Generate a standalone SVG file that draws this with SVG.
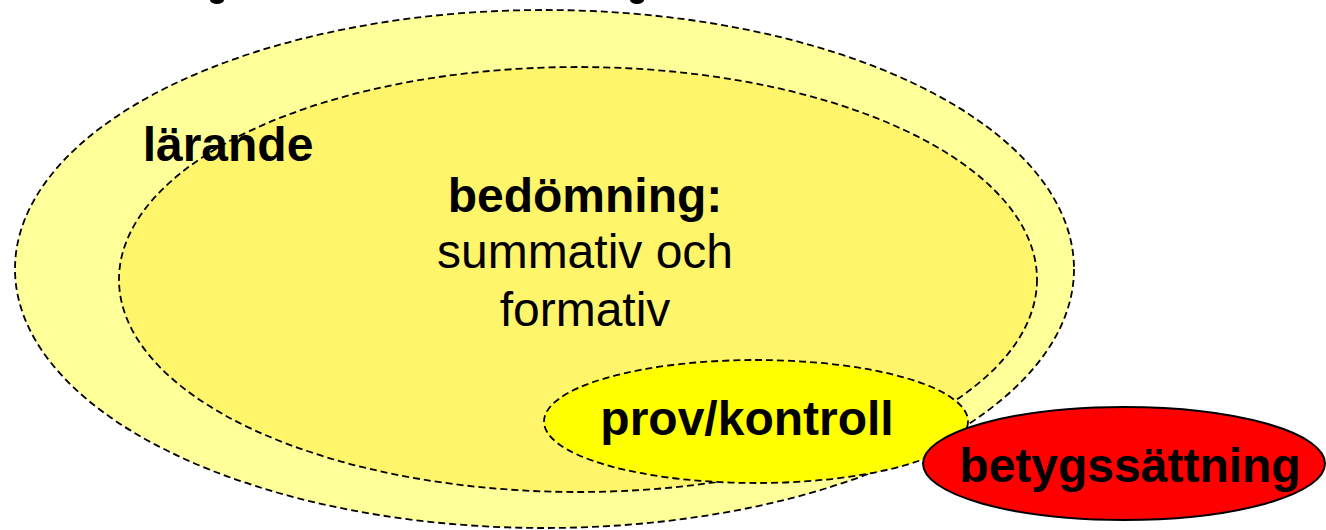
<svg xmlns="http://www.w3.org/2000/svg" width="1326" height="530" viewBox="0 0 1326 530">
<style>
.dash{stroke:#000;stroke-width:1.8;stroke-dasharray:7 4;}
.t{font-family:"Liberation Sans",Arial,sans-serif;font-size:48px;fill:#000;text-anchor:middle;}
.b{font-weight:bold;}
</style>
<rect width="1326" height="530" fill="#fff"/>
<g id="top-marks">
<ellipse cx="217" cy="0" rx="7" ry="4" fill="#000"/>
<ellipse cx="637" cy="0" rx="7" ry="4" fill="#000"/>
</g>
<g id="larande">
<ellipse cx="544.5" cy="269" rx="529.5" ry="259" fill="#FFFF99" class="dash"/>
</g>
<g id="bedomning">
<ellipse cx="578" cy="279.5" rx="459" ry="212.5" fill="#FFF56B" class="dash"/>
</g>
<g id="larande-label">
<text class="t b" x="228" y="161">lärande</text>
</g>
<g id="bedomning-label">
<text class="t b" x="585" y="212">bedömning:</text>
<text class="t" x="585" y="268">summativ och</text>
<text class="t" x="585" y="326">formativ</text>
</g>
<g id="prov">
<ellipse cx="756" cy="421.5" rx="212" ry="61.5" fill="#FFFF00" class="dash"/>
<text class="t b" x="747" y="435">prov/kontroll</text>
</g>
<g id="betyg">
<ellipse cx="1124" cy="463.5" rx="201" ry="56.5" fill="#FF0000" stroke="#000" stroke-width="2"/>
<text class="t b" x="1130" y="482">betygssättning</text>
</g>
<g id="connectors"></g>
</svg>
